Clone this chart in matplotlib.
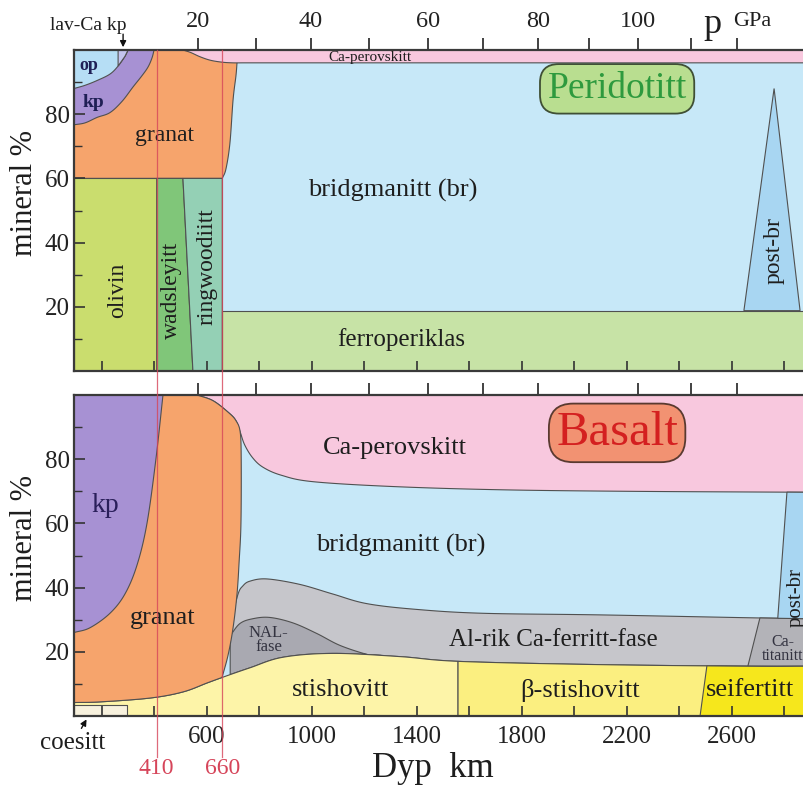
import matplotlib
matplotlib.use('Agg')
import matplotlib.pyplot as plt
import numpy as np

plt.rcParams['font.family'] = ['Liberation Serif', 'DejaVu Serif']

# ---------------- axis data ----------------
depth_min, depth_max = 95, 2890
p_ticks_depth = [568, 789, 998, 1219, 1444, 1655, 1863, 2057, 2244, 2446, 2621]
p_tick_labels = ['20', '', '40', '', '60', '', '80', '', '100', '', '']
depth_major = [600, 1000, 1400, 1800, 2200, 2600]
depth_minor = [200, 400, 800, 1200, 1600, 2000, 2400, 2800]
discontinuities = [410, 660]
pct_major = [20, 40, 60, 80]
pct_minor = [10, 30, 50, 70, 90]

# ---------------- Peridotitt ----------------
per_op_x = [95, 137, 183, 232, 263, 289, 301]
per_op_y = [88, 89, 90.5, 92.5, 95, 98, 100]
per_lcpx_x = [263, 263, 301, 289]
per_lcpx_y = [95, 100, 100, 98]
per_kp_x = [95, 137, 183, 232, 278, 320, 354, 377, 392, 400]
per_kp_y = [76.7, 77.3, 79, 80.5, 84, 88.5, 92, 94.7, 97.5, 100]
per_gt_edge_x = [660, 674, 689, 701, 712, 716]
per_gt_edge_y = [60, 63, 71, 84.5, 92, 96]
per_capv_x = [510, 540, 575, 615, 660, 700, 740]
per_capv_y = [100, 99.2, 97.9, 96.8, 96.2, 96, 96]
per_capv_base = 96
per_ol_x = [95, 410]
per_wad_x = [410, 410, 510, 548]
per_wad_y = [0, 60, 60, 0]
per_rw_x = [510, 548, 660, 660]
per_rw_y = [60, 0, 0, 60]
per_upper_top = 60
per_fp_x = [660, 2890]
per_fp_top = 18.8
per_pbr_x = [2647, 2762, 2861]
per_pbr_y = [18.8, 88, 18.8]

# ---------------- Basalt ----------------
bas_kp_x = [95, 156, 232, 289, 335, 373, 407, 434]
bas_kp_y = [26, 27.5, 32, 38, 47, 60, 80, 100]
bas_gt_right_x = [659, 682, 701, 716, 724, 731, 732, 728, 712, 684, 625, 564]
bas_gt_right_y = [12, 19, 27.5, 38, 48, 60, 80, 88.5, 92, 94.5, 98.2, 100]
bas_capv_x = [564, 625, 684, 712, 728, 745, 775, 815, 885, 1005, 1305, 1705, 2205, 2890]
bas_capv_y = [100, 98.2, 94.5, 92, 88.5, 84.5, 80.5, 77.5, 75, 73, 71.5, 70.5, 70, 69.7]
bas_st_x = [95, 194, 385, 510, 602, 659, 765, 891, 1082, 1337, 1565, 2099, 2670, 2890]
bas_st_y = [4.2, 4.4, 5.6, 7.5, 10.3, 12, 15, 18.3, 19.5, 18.5, 17, 16, 15.5, 15.5]
bas_cf_x = [695, 720, 738, 765, 830, 955, 1081, 1211, 1401, 1653, 2098, 2669, 2890]
bas_cf_y = [30, 38, 40.5, 42, 42.7, 41, 38, 35, 33.2, 32, 31.5, 30.6, 30.3]
bas_nal_x = [690, 727, 776, 841, 929, 1020, 1108, 1211, 1265]
bas_nal_y = [25, 28.8, 30.3, 30.7, 29, 25.7, 22, 19.2, 18.6]
bas_bst_start = 1558
bas_seif_x = [2480, 2506]
bas_cati_x = [2662, 2708]
bas_pbr_x = [2811, 2776]
bas_coe_x = [95, 297]
bas_coe_top = 3.5

# ---------------- colours ----------------
C_BR = '#c7e8f8'
C_CAPV = '#f8c8de'
C_GT = '#f6a46c'
C_KP = '#a791d3'
C_OP = '#b6def5'
C_LCPX = '#c4c4ee'
C_OL = '#cadd6e'
C_WAD = '#80c679'
C_RW = '#94d0b5'
C_FP = '#c7e3a6'
C_PBR = '#a8d6f2'
C_CF = '#c6c6cb'
C_NAL = '#a9a9b1'
C_CATI = '#b3b3b8'
C_ST = '#fdf4a8'
C_BST = '#fbef80'
C_SEIF = '#f6e71c'
C_COE = '#f7f1dd'
EC = '#505050'
RED = '#d6455a'

SX, SY = 0.2625, 3.21  # pixel scale used only for even smoothing


def smooth(xs, ys, n=16):
    """Catmull-Rom curve through the given boundary points."""
    P = np.column_stack([np.asarray(xs, float) * SX, np.asarray(ys, float) * SY])
    if len(P) < 3:
        return np.asarray(xs, float), np.asarray(ys, float)
    P = np.vstack([2 * P[0] - P[1], P, 2 * P[-1] - P[-2]])
    out = []
    t = np.linspace(0, 1, n, endpoint=False)[:, None]
    for i in range(1, len(P) - 2):
        p0, p1, p2, p3 = P[i - 1], P[i], P[i + 1], P[i + 2]
        out.append(0.5 * (2 * p1 + (-p0 + p2) * t + (2 * p0 - 5 * p1 + 4 * p2 - p3) * t ** 2
                          + (-p0 + 3 * p1 - 3 * p2 + p3) * t ** 3))
    out.append(P[-2][None, :])
    out = np.vstack(out)
    return out[:, 0] / SX, out[:, 1] / SY


fig = plt.figure(figsize=(8.04, 7.85), dpi=100)
W, H = 804.0, 785.0
ax_l = 74 / W
ax_w = ((depth_max - depth_min) * 0.2625) / W
ax1 = fig.add_axes([ax_l, 1 - 371 / H, ax_w, 321 / H])
ax2 = fig.add_axes([ax_l, 1 - 716 / H, ax_w, 321 / H])

kw = dict(edgecolor=EC, linewidth=0.8)
tc = '#1e1e1e'

# ---------- Peridotitt panel ----------
ax = ax1
ax.fill_between([depth_min, depth_max], 0, 100, color=C_BR, lw=0)
ex, ey = smooth(per_gt_edge_x, per_gt_edge_y)
ax.fill(np.r_[depth_min, ex, ex[-1], depth_min], np.r_[60, ey, 100, 100], facecolor=C_GT, **kw)
cx, cy = smooth(per_capv_x, per_capv_y)
ax.fill(np.r_[cx, depth_max, depth_max], np.r_[cy, per_capv_base, 100], facecolor=C_CAPV, **kw)
kx, ky = smooth(per_kp_x, per_kp_y)
ax.fill(np.r_[kx, depth_min], np.r_[ky, 100], facecolor=C_KP, **kw)
ox, oy = smooth(per_op_x, per_op_y)
ax.fill(np.r_[ox, depth_min], np.r_[oy, 100], facecolor=C_OP, **kw)
ax.fill(per_lcpx_x, per_lcpx_y, facecolor=C_LCPX, **kw)
ax.fill_between(per_ol_x, 0, per_upper_top, facecolor=C_OL, **kw)
ax.fill(per_wad_x, per_wad_y, facecolor=C_WAD, **kw)
ax.fill(per_rw_x, per_rw_y, facecolor=C_RW, **kw)
ax.fill_between(per_fp_x, 0, per_fp_top, facecolor=C_FP, **kw)
ax.fill(per_pbr_x, per_pbr_y, facecolor=C_PBR, **kw)

ax.text(150, 95.3, 'op', fontsize=13, color='#1f1f55', ha='center', va='center', fontweight='bold')
ax.text(168, 83.5, 'kp', fontsize=14, color='#1f1f55', ha='center', va='center', fontweight='bold')
ax.text(440, 73.5, 'granat', fontsize=17, color=tc, ha='center', va='center')
ax.text(1223, 97.6, 'Ca-perovskitt', fontsize=11, color=tc, ha='center', va='center')
ax.text(1310, 56.4, 'bridgmanitt (br)', fontsize=19, color=tc, ha='center', va='center')
ax.text(263, 25, 'olivin', fontsize=17, color=tc, ha='center', va='center', rotation=90)
ax.text(465, 25, 'wadsleyitt', fontsize=17, color=tc, ha='center', va='center', rotation=90)
ax.text(602, 32.5, 'ringwoodiitt', fontsize=17, color=tc, ha='center', va='center', rotation=90)
ax.text(2762, 37.5, 'post-br', fontsize=17, color=tc, ha='center', va='center', rotation=90)
ax.text(1340, 9.7, 'ferroperiklas', fontsize=18, color=tc, ha='center', va='center')
ax.text(2164, 87.9, 'Peridotitt', fontsize=27, color='#2e9a3e', ha='center', va='center',
        bbox=dict(boxstyle='round,pad=0.2,rounding_size=0.5', fc='#b9de90', ec='#3f4f35', lw=1.3))
ax.text(148, 107.5, 'lav-Ca kp', fontsize=14, color=tc, ha='center', va='center', clip_on=False)
ax.annotate('', xy=(282, 100), xytext=(282, 105.8), annotation_clip=False,
            arrowprops=dict(arrowstyle='-|>', color='#111', lw=1.0, mutation_scale=9))
ax.text(2529, 108.0, 'p', fontsize=26, color=tc, ha='center', va='center', clip_on=False)
ax.text(2678, 108.9, 'GPa', fontsize=16, color=tc, ha='center', va='center', clip_on=False)

# ---------- Basalt panel ----------
ax = ax2
ax.fill_between([depth_min, depth_max], 0, 100, color=C_BR, lw=0)

stx, sty = smooth(bas_st_x, bas_st_y)
stx = np.maximum.accumulate(stx)
st_at = lambda x: np.interp(x, stx, sty)
cfx, cfy = smooth(bas_cf_x, bas_cf_y)
cfx = np.maximum.accumulate(cfx)
cf_at = lambda x: np.interp(x, cfx, cfy)
cpx, cpy = smooth(bas_capv_x, bas_capv_y)
cp_sorted = np.argsort(cpx)
cp_at = lambda x: np.interp(x, cpx[cp_sorted], cpy[cp_sorted])


def st_between(a, b):
    m = (stx > a) & (stx < b)
    xs = np.r_[a, stx[m], b]
    return xs, st_at(xs)


ax.fill(np.r_[cpx, depth_max], np.r_[cpy, 100], facecolor=C_CAPV, **kw)
lx, ly = st_between(cfx[0], cfx[-1])
ax.fill(np.r_[cfx, lx[::-1]], np.r_[cfy, ly[::-1]], facecolor=C_CF, **kw)
nx, ny = smooth(bas_nal_x, bas_nal_y)
lx, ly = st_between(nx[0], nx[-1])
ax.fill(np.r_[nx, lx[::-1]], np.r_[ny, ly[::-1]], facecolor=C_NAL, **kw)
ax.fill([bas_cati_x[0], bas_cati_x[1], depth_max, depth_max],
        [st_at(bas_cati_x[0]), cf_at(bas_cati_x[1]), cf_at(depth_max), st_at(depth_max)],
        facecolor=C_CATI, **kw)
lx, ly = st_between(depth_min, bas_bst_start)
ax.fill(np.r_[lx, bas_bst_start, depth_min], np.r_[ly, 0, 0], facecolor=C_ST, **kw)
lx, ly = st_between(bas_bst_start, depth_max)
ax.fill(np.r_[lx, depth_max, bas_bst_start], np.r_[ly, 0, 0], facecolor=C_BST, **kw)
lx, ly = st_between(bas_seif_x[1], depth_max)
ax.fill(np.r_[bas_seif_x[0], lx, depth_max], np.r_[0, ly, 0], facecolor=C_SEIF, **kw)
ax.fill([bas_pbr_x[0], bas_pbr_x[1], depth_max, depth_max],
        [cp_at(bas_pbr_x[0]), cf_at(bas_pbr_x[1]), cf_at(depth_max), cp_at(depth_max)],
        facecolor=C_PBR, **kw)
# granat
gx, gy = smooth(bas_gt_right_x, bas_gt_right_y)
lx, ly = st_between(depth_min, bas_gt_right_x[0])
ax.fill(np.r_[lx, gx, depth_min], np.r_[ly, gy, 100], facecolor=C_GT, **kw)
kx, ky = smooth(bas_kp_x, bas_kp_y)
ax.fill(np.r_[kx, depth_min], np.r_[ky, 100], facecolor=C_KP, **kw)
ax.fill_between(bas_coe_x, 0, bas_coe_top, facecolor=C_COE, **kw)

ax.text(213, 65.5, 'kp', fontsize=20, color='#2a1f5a', ha='center', va='center')
ax.text(434, 30.5, 'granat', fontsize=19, color=tc, ha='center', va='center')
ax.text(1318, 83.5, 'Ca-perovskitt', fontsize=19, color=tc, ha='center', va='center')
ax.text(1340, 53, 'bridgmanitt (br)', fontsize=19, color=tc, ha='center', va='center')
ax.text(836, 23.7, 'NAL-\nfase', fontsize=12, color='#333340', ha='center', va='center', linespacing=0.8)
ax.text(1920, 23.7, 'Al-rik Ca-ferritt-fase', fontsize=18, color=tc, ha='center', va='center')
ax.text(2795, 20.8, 'Ca-\ntitanitt', fontsize=11.5, color='#333340', ha='center', va='center', linespacing=0.85)
ax.text(1110, 8, 'stishovitt', fontsize=19, color=tc, ha='center', va='center')
ax.text(2023, 8, 'β-stishovitt', fontsize=19, color=tc, ha='center', va='center')
ax.text(2672, 8, 'seifertitt', fontsize=19, color=tc, ha='center', va='center')
ax.text(2845, 37, 'post-br', fontsize=15, color=tc, ha='center', va='center', rotation=90)
ax.text(2164, 88.2, 'Basalt', fontsize=35, color='#d42020', ha='center', va='center',
        bbox=dict(boxstyle='round,pad=0.15,rounding_size=0.5', fc='#f29272', ec='#5a3a30', lw=1.3))
ax.text(91, -8.4, 'coesitt', fontsize=18, color=tc, ha='center', va='center', clip_on=False)
ax.annotate('', xy=(148, -0.3), xytext=(118, -4.6), annotation_clip=False,
            arrowprops=dict(arrowstyle='-|>', color='#111', lw=1.0, mutation_scale=9))
ax.text(1462, -16.3, 'Dyp  km', fontsize=25, color=tc, ha='center', va='center', clip_on=False)
for d in discontinuities:
    ax.axvline(d, ymin=-0.128, ymax=2.075, color=RED, lw=0.9, alpha=0.8, clip_on=False, zorder=6)
    ax.text(d, -16.2, str(d), fontsize=17, color=RED, ha='center', va='center', clip_on=False)

# ---------- axes styling ----------
for i, ax in enumerate([ax1, ax2]):
    ax.set_xlim(depth_min, depth_max)
    ax.set_ylim(0, 100)
    for s in ax.spines.values():
        s.set_color('#3a3a3a')
        s.set_linewidth(1.6)
    ax.set_yticks(pct_major)
    ax.set_yticks(pct_minor, minor=True)
    ax.set_yticklabels([str(v) for v in pct_major], fontsize=18)
    ax.tick_params(axis='y', which='both', direction='in', right=False, pad=3, colors='#333333')
    ax.tick_params(axis='y', which='major', length=8, width=1.2)
    ax.tick_params(axis='y', which='minor', length=6, width=1.0)
    ax.tick_params(axis='y', labelcolor='#222222')
    ax.set_xticks(depth_major)
    ax.set_xticks(depth_minor, minor=True)
    ax.tick_params(axis='x', which='both', direction='in', top=False, length=7, width=1.2, colors='#333333')
    if i == 0:
        ax.set_xticklabels([])
    else:
        ax.set_xticklabels([str(v) for v in depth_major], fontsize=18)
        ax.tick_params(axis='x', pad=7, labelcolor='#222222')
    ax.text(-0.067, 0.555, 'mineral %', transform=ax.transAxes, rotation=90,
            fontsize=22, ha='center', va='center', color=tc)
    sec = ax.secondary_xaxis('top')
    sec.set_xticks(p_ticks_depth)
    sec.tick_params(direction='out', length=9, width=1.3, colors='#333333', pad=4)
    if i == 0:
        sec.set_xticklabels(p_tick_labels, fontsize=17.5, color='#222222')
    else:
        sec.set_xticklabels([])
    sec.spines['top'].set_visible(False)

fig.savefig('out.png', dpi=100)
